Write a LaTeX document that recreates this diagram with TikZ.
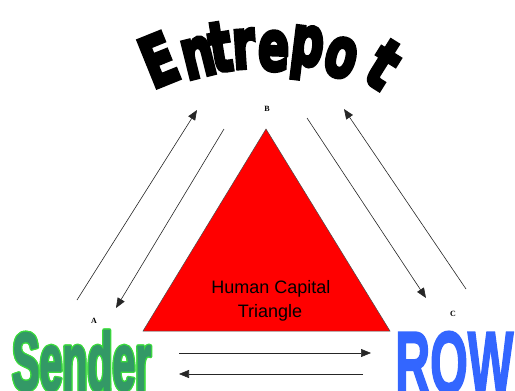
\documentclass[tikz,border=0pt]{standalone}
\usepackage{fontspec}
\usetikzlibrary{arrows.meta}
\setmainfont{Liberation Sans}
\newfontfamily\archfont[FakeBold=6]{DejaVu Sans Bold}
\newfontfamily\bigfont[FakeBold=2.5]{Liberation Sans Bold}
\newfontfamily\tagfont{Liberation Serif Bold}

\definecolor{capred}{RGB}{255,0,0}
\definecolor{sendfill}{RGB}{51,153,102}
\definecolor{sendedge}{RGB}{60,220,60}
\definecolor{rowblue}{RGB}{51,102,255}

\tikzset{
  flow/.style={draw=black!85, line width=0.6pt, -{Triangle[length=10pt,width=8pt]}},
  tag/.style={font=\tagfont\fontsize{8}{8}\selectfont, inner sep=0pt},
  arch/.style={anchor=base, inner sep=0pt, font=\archfont\fontsize{46}{46}\selectfont},
  caption/.style={anchor=base, inner sep=0pt, font=\fontsize{18}{18}\selectfont},
  bigword/.style={anchor=base west, inner sep=0pt, font=\bigfont\fontsize{82}{82}\selectfont},
}

\begin{document}
\begin{tikzpicture}[x=1pt,y=-1pt]
\useasboundingbox (0,0) rectangle (515,391);
\clip (0,0) rectangle (515,391);

% arched title, one letter at a time along the arc
\node[arch, rotate=22]  (l1) at (168,83) {\scalebox{1.05}[1.5]{E}};
\node[arch, rotate=14]  (l2) at (203,76) {\scalebox{1}[1.5]{n}};
\node[arch, rotate=9]   (l3) at (224,71) {\scalebox{1}[1.5]{t}};
\node[arch, rotate=4]   (l4) at (245,68) {\scalebox{1}[1.5]{r}};
\node[arch, rotate=-2]  (l5) at (273,70) {\scalebox{1}[1.5]{e}};
\node[arch, rotate=-7]  (l6) at (305,65) {\scalebox{1}[1.5]{p}};
\node[arch, rotate=-15] (l7) at (336,76) {\scalebox{1}[1.5]{o}};
\node[arch, rotate=-32] (l8) at (371,85) {\scalebox{1.1}[1.5]{t}};

% central triangle
\draw[fill=capred, draw=black!70, line width=0.5pt]
  (266,129) -- (143,331) -- (390,331) -- cycle;
\node[caption] (hct1) at (271,293) {Human Capital};
\node[caption] (hct2) at (270,317) {Triangle};

% corner tags
\node[tag] (tagA) at (94,321) {A};
\node[tag] (tagB) at (267,109) {B};
\node[tag] (tagC) at (453,314) {C};

% arrow end points
\coordinate (ab-s) at (77,300);  \coordinate (ab-e) at (197,110);
\coordinate (ba-s) at (224,129); \coordinate (ba-e) at (116,308);
\coordinate (bc-s) at (307,118); \coordinate (bc-e) at (426,298);
\coordinate (cb-s) at (466,289); \coordinate (cb-e) at (344,109);
\coordinate (ac-s) at (179,353); \coordinate (ac-e) at (371,353);
\coordinate (ca-s) at (363,374); \coordinate (ca-e) at (179,374);

\draw[flow] (ab-s) -- (ab-e);
\draw[flow] (ba-s) -- (ba-e);
\draw[flow] (bc-s) -- (bc-e);
\draw[flow] (cb-s) -- (cb-e);
\draw[flow] (ac-s) -- (ac-e);
\draw[flow] (ca-s) -- (ca-e);

% sender word: bright rim under a darker fill
\foreach \dx/\dy [count=\i] in {1.3/0,-1.3/0,0/1.3,0/-1.3,0.9/0.9,-0.9/0.9,0.9/-0.9,-0.9/-0.9}
  \node[bigword, text=sendedge] (rim\i) at (12+\dx,390+\dy) {\scalebox{0.5}[1]{Sender}};
\node[bigword, text=sendfill] (sender) at (12,390) {\scalebox{0.5}[1]{Sender}};

% rest-of-world word
\node[bigword, text=rowblue, font=\bigfont\fontsize{88}{88}\selectfont] (row) at (395,393) {\scalebox{0.55}[1]{ROW}};
\end{tikzpicture}
\end{document}
